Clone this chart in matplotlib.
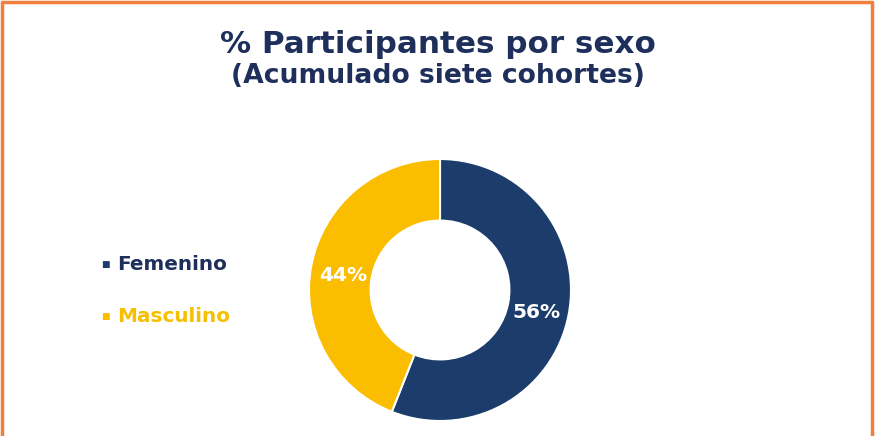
import numpy as np
import matplotlib.pyplot as plt

labels = ["Femenino", "Masculino"]
values = [56, 44]
colors = ["#1c3d6b", "#fbbd00"]
text_colors = ["#1f2f5c", "#f5c000"]

plt.rcParams['font.family'] = ['DejaVu Sans']

W, H = 875, 436
fig = plt.figure(figsize=(W / 100, H / 100), dpi=100)

# orange frame (bottom edge cut off in the original)
fig.add_artist(plt.Line2D([0.002, 0.002, 0.997, 0.997], [0, 0.996, 0.996, 0],
                          transform=fig.transFigure, color="#f07f3c", lw=2.5))

fig.text(0.5, 1 - 53 / H, "% Participantes por sexo", ha="center", va="baseline",
         fontsize=22.3, fontweight="bold", color="#1f2f5c")
fig.text(0.5, 1 - 83 / H, "(Acumulado siete cohortes)", ha="center", va="baseline",
         fontsize=19.2, fontweight="bold", color="#1f2f5c")

cx, cy, r = 440, 290, 131
ax = fig.add_axes([(cx - r) / W, (H - cy - r) / H, 2 * r / W, 2 * r / H])
wedges, _ = ax.pie(values, colors=colors, startangle=90, counterclock=False,
                   radius=1.0, wedgeprops=dict(width=0.47, edgecolor="white", linewidth=1.5))
ax.set_xlim(-1, 1)
ax.set_ylim(-1, 1)
ax.set_aspect("equal")

# percentage labels on the ring
for w, v in zip(wedges, values):
    mid = np.deg2rad((w.theta1 + w.theta2) / 2)
    rr = 0.75
    ax.text(rr * np.cos(mid), rr * np.sin(mid) - 0.03, f"{v}%", ha="center", va="center",
            fontsize=14.5, fontweight="bold", color="white")

# legend
baselines = [270, 322]
for lab, c, tc, y in zip(labels, colors, text_colors, baselines):
    fig.text(105 / W, 1 - (y - 6) / H, "■", ha="center", va="center", fontsize=6.5,
             color=c)
    fig.text(117 / W, 1 - y / H, lab, ha="left", va="baseline", fontsize=14.4,
             fontweight="bold", color=tc)

fig.savefig("out.png", dpi=100)
